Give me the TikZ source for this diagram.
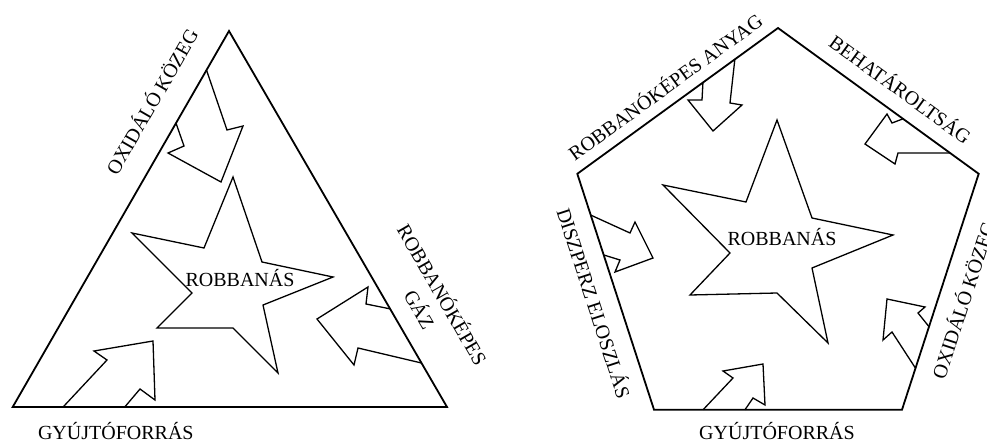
\documentclass[tikz,border=0pt]{standalone}
\usepackage{fontspec}
\setmainfont{Liberation Serif}
\usetikzlibrary{calc}
\tikzset{
  rim/.style={line width=1.8pt, line join=miter},
  outl/.style={line width=1.3pt, line join=miter},
  lbl/.style={font=\fontsize{20}{24}\selectfont, inner sep=0pt, text height=13.2pt, text depth=0pt}
}
\begin{document}
\begin{tikzpicture}[x=1pt,y=-1pt]
	\useasboundingbox (0,0) rectangle (987,441);
	
	% triangle
	\coordinate (ta) at (229,31);
	\coordinate (tl) at (12.7,407);
	\coordinate (tr) at (447,407);
	\draw[rim] (ta) -- (tl) -- (tr) -- cycle;
	\draw[outl] (233,177) -- (204,248) -- (132,233) -- (192,293) -- (157,328) -- (233,328) -- (278,373) -- (263,305) -- (333,277) -- (262,262) -- cycle;
	\node[lbl] (tstar) at (240,280) {ROBBANÁS};
	
	\draw[outl] ($(tl)!0.896!(ta)$) -- (227,130) -- (243,126) -- (221,182) -- (168,153) -- (184,146) -- ($(tl)!0.755!(ta)$);
	\draw[outl] ($(tl)!0.116!(tr)$) -- (107,360) -- (94,351) -- (153,341) -- (155,400) -- (140,389) -- ($(tl)!0.258!(tr)$);
	\draw[outl] ($(ta)!0.739!(tr)$) -- (366,304) -- (368,287) -- (317,319) -- (354,365) -- (358,348) -- ($(ta)!0.883!(tr)$);
	
	\node[lbl, rotate=60] (toxi) at (152.5,102) {OXIDÁLÓ KÖZEG};
	\node[lbl, rotate=-60] (tgas) at (441.7,295) {ROBBANÓKÉPES};
	\node[lbl, rotate=-60] (tgaz) at (419,309.5) {GÁZ};
	\node[lbl, anchor=base] (tign) at (115.8,439) {GYÚJTÓFORRÁS};
	
	% pentagon
	\coordinate (p1) at (778,28);
	\coordinate (p2) at (978.7,173.8);
	\coordinate (p3) at (902,409.7);
	\coordinate (p4) at (654,409.7);
	\coordinate (p5) at (577.3,173.8);
	\draw[rim] (p1) -- (p2) -- (p3) -- (p4) -- (p5) -- cycle;
	\draw[outl] (777,120) -- (746,202) -- (663,185) -- (730,253) -- (690,295) -- (777,293) -- (828,343) -- (812,268) -- (893,235) -- (812,218) -- cycle;
	\node[lbl] (pstar) at (782,239) {ROBBANÁS};
	
	\draw[outl] ($(p5)!0.785!(p1)$) -- (730,103) -- (742,105) -- (713,131) -- (688,100) -- (702,100) -- ($(p5)!0.626!(p1)$);
	\draw[outl] ($(p1)!0.623!(p2)$) -- (892,123) -- (887,114) -- (865,144) -- (895,164) -- (898,153) -- ($(p1)!0.857!(p2)$);
	\draw[outl] ($(p2)!0.648!(p3)$) -- (918,313) -- (925,307) -- (887,299) -- (883,340) -- (892,332) -- ($(p2)!0.824!(p3)$);
	\draw[outl] ($(p4)!0.198!(p3)$) -- (733,378) -- (723,371) -- (763,364) -- (765,405) -- (753,398) -- ($(p4)!0.367!(p3)$);
	\draw[outl] ($(p5)!0.175!(p4)$) -- (630,233) -- (635,222) -- (653,258) -- (615,272) -- (620,260) -- ($(p5)!0.344!(p4)$);
	
	\node[lbl, rotate=36] (pmat) at (665.7,87.5) {ROBBANÓKÉPES ANYAG};
	\node[lbl, rotate=-36] (pconf) at (900,90) {BEHATÁROLTSÁG};
	\node[lbl, rotate=72] (poxi) at (964,300.5) {OXIDÁLÓ KÖZEG};
	\node[lbl, rotate=-72] (pdisp) at (593.3,303.3) {DISZPERZ ELOSZLÁS};
	\node[lbl, anchor=base] (pign) at (777,439) {GYÚJTÓFORRÁS};
\end{tikzpicture}
\end{document}
